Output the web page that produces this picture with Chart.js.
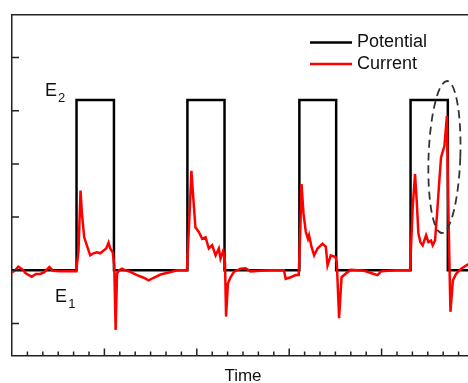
<!DOCTYPE html>
<html>
<head>
<meta charset="utf-8">
<script src="https://cdn.jsdelivr.net/npm/chart.js@4.4.0/dist/chart.umd.min.js"></script>
<style>
  html, body { margin: 0; padding: 0; background: #fff; overflow: hidden; }
  #wrap { width: 476px; height: 383px; }
</style>
</head>
<body>
<div id="wrap"><canvas id="myChart" width="476" height="383"></canvas></div>
<script>
const seriesNames = ['Potential', 'Current']

// square wave: time of each switch and the level it goes to
const potentialTime = [0, 4.19, 6.62, 11.39, 13.8, 18.66, 21.05, 25.88, 28.3, 30]
const potentialValue = [0, 3.2, 0, 3.2, 0, 3.2, 0, 3.2, 0, 0]

const currentTime = [
  0, 0.2, 0.41, 0.65, 0.91, 1.28, 1.56, 1.82, 2.08, 2.43, 2.67, 3.13, 3.78, 4.17,
  4.32, 4.45, 4.54, 4.69, 4.86, 5.08, 5.29, 5.51, 5.73, 5.94, 6.12, 6.27, 6.38, 6.54, 6.64,
  6.73, 6.82, 6.97, 7.14, 7.36, 7.68, 8.12, 8.55, 8.87, 9.2, 9.64, 10.18, 10.72, 11.36,
  11.54, 11.65, 11.8, 11.91, 12.13, 12.35, 12.57, 12.78, 13.0, 13.22, 13.43, 13.54, 13.72, 13.83,
  13.9, 14.02, 14.19, 14.41, 14.84, 15.17, 15.49, 16.15, 16.8, 17.66, 17.77, 18.1, 18.42, 18.62,
  18.72, 18.8, 18.93, 19.08, 19.22, 19.29, 19.45, 19.62, 19.84, 20.16, 20.38, 20.49, 20.7, 21.0, 21.09,
  21.24, 21.4, 21.68, 22.0, 22.87, 23.31, 23.74, 23.96, 24.93, 25.85,
  26.02, 26.17, 26.28, 26.39, 26.52, 26.67, 26.89, 27.04, 27.21, 27.32, 27.47, 27.6, 27.75, 27.86, 28.08, 28.24, 28.33,
  28.47, 28.63, 28.85, 29.17, 29.6, 30
]
const currentValue = [
  -0.04, 0, 0.07, 0.02, -0.06, -0.12, -0.07, -0.07, -0.04, 0.06, -0.01, -0.02, -0.02, -0.02,
  0.37, 1.5, 1.07, 0.62, 0.47, 0.28, 0.32, 0.34, 0.32, 0.37, 0.41, 0.52, 0.41, 0.34, 0.09,
  -1.12, -0.06, 0, 0.03, 0, -0.03, -0.09, -0.14, -0.19, -0.14, -0.08, -0.04, 0, 0,
  1.12, 1.87, 1.25, 0.81, 0.72, 0.59, 0.62, 0.41, 0.47, 0.28, 0.41, 0.22, 0.37, 0.15,
  -0.87, -0.25, -0.13, -0.03, 0.03, 0.04, -0.02, -0.01, 0, 0, -0.16, -0.13, -0.09, -0.09,
  0.75, 1.62, 1.06, 0.72, 0.59, 0.66, 0.44, 0.28, 0.41, 0.5, 0.44, 0.09, 0.28, 0.25, 0.15,
  -0.9, -0.13, -0.06, 0.01, -0.01, -0.05, -0.09, -0.02, 0, 0,
  1.19, 1.81, 1.31, 0.69, 0.53, 0.47, 0.66, 0.53, 0.56, 0.47, 0.56, 1.06, 1.69, 2.12, 2.34, 2.9, 1.2,
  -0.78, -0.19, -0.06, 0.03, 0.11, 0.11
]

const yTicks = [-1, 0, 1, 2, 3, 4]

const toPoints = (xs, ys) => xs.map((t, i) => ({ x: t, y: ys[i] }))

const frameColor = '#222'

// tick marks drawn inward, like the original plot
const insideTicks = {
  id: 'insideTicks',
  afterDraw(chart) {
    const { ctx, chartArea, scales: { x, y } } = chart
    ctx.save()
    ctx.strokeStyle = frameColor
    ctx.lineWidth = 1.5
    ctx.beginPath()
    for (let t = x.min + 1; t < x.max; t++) {
      const px = x.getPixelForValue(t)
      const len = t % 6 === 0 ? 7 : 4
      ctx.moveTo(px, chartArea.bottom)
      ctx.lineTo(px, chartArea.bottom - len)
    }
    yTicks.forEach((v) => {
      const py = y.getPixelForValue(v)
      ctx.moveTo(chartArea.left, py)
      ctx.lineTo(chartArea.left + 7, py)
    })
    ctx.stroke()
    ctx.restore()
  }
}

// E1 / E2 labels and the dashed ellipse round the last current peak
const notes = {
  id: 'notes',
  afterDatasetsDraw(chart) {
    const { ctx, scales: { x, y } } = chart
    ctx.save()
    ctx.fillStyle = '#111'
    ctx.textBaseline = 'alphabetic'
    const sub = (big, small, tx, vy) => {
      const px = x.getPixelForValue(tx)
      const py = y.getPixelForValue(vy)
      ctx.font = '18px "Liberation Sans", Arial, sans-serif'
      ctx.fillText(big, px, py)
      const w = ctx.measureText(big).width
      ctx.font = '13px "Liberation Sans", Arial, sans-serif'
      ctx.fillText(small, px + w + 1, py + 6)
    }
    sub('E', '2', 2.15, 3.27)
    sub('E', '1', 2.8, -0.59)

    const cx = x.getPixelForValue(28.08)
    const cy = y.getPixelForValue(2.13)
    const ry = y.getPixelForValue(0) - y.getPixelForValue(1.43)
    const rx = x.getPixelForValue(1.03) - x.getPixelForValue(0)
    ctx.strokeStyle = '#333'
    ctx.lineWidth = 1.8
    ctx.setLineDash([8, 5])
    ctx.beginPath()
    ctx.ellipse(cx, cy, rx, ry, 0.035, 0, Math.PI * 2)
    ctx.stroke()
    ctx.restore()
  }
}

// legend inside the plot, top right
const insideLegend = {
  id: 'insideLegend',
  afterDraw(chart) {
    const { ctx, chartArea } = chart
    ctx.save()
    ctx.font = '18px "Liberation Sans", Arial, sans-serif'
    ctx.textBaseline = 'middle'
    chart.data.datasets.forEach((ds, i) => {
      const yy = chartArea.top + 27.5 + i * 21.5
      const x0 = chartArea.left + 298
      ctx.strokeStyle = ds.borderColor
      ctx.lineWidth = 2.5
      ctx.beginPath()
      ctx.moveTo(x0, yy)
      ctx.lineTo(x0 + 42, yy)
      ctx.stroke()
      ctx.fillStyle = '#111'
      ctx.fillText(ds.label, x0 + 47, yy)
    })
    ctx.restore()
  }
}

Chart.defaults.font.family = '"Liberation Sans", Arial, sans-serif'
Chart.defaults.color = '#111'

const frameAxis = (position) => ({
  type: 'linear',
  position: position,
  display: true,
  ticks: { display: false },
  grid: { display: false, drawTicks: false },
  border: { display: true, color: frameColor, width: 1.5 }
})

const config = {
  type: 'line',
  data: {
    datasets: [
      {
        label: seriesNames[0],
        data: toPoints(potentialTime, potentialValue),
        borderColor: '#000',
        borderWidth: 2.5,
        stepped: true,
        pointRadius: 0,
        order: 1
      },
      {
        label: seriesNames[1],
        data: toPoints(currentTime, currentValue),
        borderColor: '#f00',
        borderWidth: 2.5,
        tension: 0,
        pointRadius: 0,
        order: 0
      }
    ]
  },
  options: {
    responsive: false,
    animation: false,
    devicePixelRatio: 1,
    layout: { padding: { left: 12, top: 15, right: 2, bottom: 0 } },
    plugins: {
      legend: { display: false },
      tooltip: { enabled: false }
    },
    scales: {
      x: {
        ...frameAxis('bottom'),
        min: 0,
        max: 30,
        title: {
          display: true,
          text: 'Time',
          color: '#111',
          font: { size: 17, lineHeight: 0.8 },
          padding: { top: 14, bottom: 0 }
        }
      },
      y: { ...frameAxis('left'), min: -1.6, max: 4.8 },
      xTop: { ...frameAxis('top'), min: 0, max: 30 },
      yRight: { ...frameAxis('right'), min: -1.6, max: 4.8 }
    }
  },
  plugins: [insideTicks, notes, insideLegend]
}

const myChart = new Chart(document.getElementById('myChart'), config)
</script>
</body>
</html>
